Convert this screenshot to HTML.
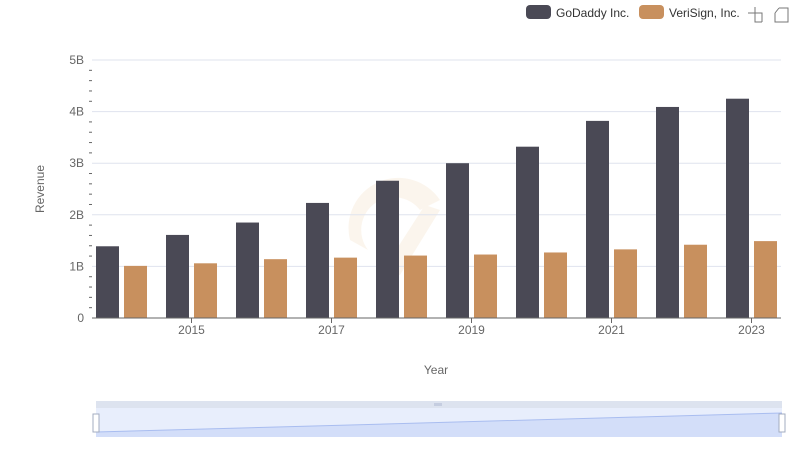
<!DOCTYPE html>
<html><head><meta charset="utf-8"><style>
body{margin:0;background:#fff;font-family:"Liberation Sans",sans-serif;}
svg text{font-family:"Liberation Sans",sans-serif;}
</style></head><body>
<svg id="chart" width="800" height="461" xmlns="http://www.w3.org/2000/svg">
<g>
 <g><rect x="526" y="5" width="25" height="14" rx="4" fill="#4a4955"/><text x="556" y="17" font-size="12" fill="#333">GoDaddy Inc.</text></g>
 <g><rect x="639" y="5" width="25" height="14" rx="4" fill="#c8905e"/><text x="669" y="17" font-size="12" fill="#333">VeriSign, Inc.</text></g>
 <g stroke="#777" fill="none"><path d="M748 13h14v9M755 7v15h7"/></g>
 <g stroke="#777" fill="none"><path d="M779 8h9v14h-13v-9M775 13l4-5"/></g>
</g>
<g opacity="0.12">
 <path d="M350 240 A50 50 0 0 1 440 200 L420 210 A30 30 0 0 0 368 250 Z" fill="#e0b070"/>
 <path d="M440 210 L400 275 L380 275 L425 205 Z" fill="#e0b070"/>
</g>
<g id="grid"></g>
<g id="bars"></g>
<g id="axes"></g>
<text x="44" y="189" font-size="12" fill="#666" text-anchor="middle" transform="rotate(-90 44 189)">Revenue</text>
<text x="436" y="374" font-size="12" fill="#666" text-anchor="middle">Year</text>
<g>
 <rect x="96" y="401" width="686" height="7" fill="#dde3ef"/>
 <rect x="96" y="408" width="686" height="29" fill="#e8eefc"/>
 <path d="M96 432L782 413V437H96Z" fill="#d3def9"/>
 <path d="M96 432L782 413" stroke="#a9bdf0" fill="none"/>
 <rect x="434" y="403" width="8" height="3" fill="#c5cde0"/>
 <rect x="93" y="414" width="6" height="18" fill="#fff" stroke="#a3acc0"/>
 <rect x="779" y="414" width="6" height="18" fill="#fff" stroke="#a3acc0"/>
</g>
</svg>
<script>
const years=[2014,2015,2016,2017,2018,2019,2020,2021,2022,2023];
const godaddy=[1.39,1.61,1.85,2.23,2.66,3.00,3.32,3.82,4.09,4.25];
const verisign=[1.01,1.06,1.14,1.17,1.21,1.23,1.27,1.33,1.42,1.49];
const yTicks=[0,1,2,3,4,5];
const yTickLabels=["0","1B","2B","3B","4B","5B"];
const xTickLabels=["2015","2017","2019","2021","2023"];
const NS="http://www.w3.org/2000/svg";
const y0=318,yTop=60,yMax=5;
function yS(v){return y0-(v/yMax)*(y0-yTop);}
function xC(i){return 121.5+70*i;}
function mk(t,a,p){const e=document.createElementNS(NS,t);for(const k in a)e.setAttribute(k,a[k]);p.appendChild(e);return e;}
const grid=document.getElementById('grid'),bars=document.getElementById('bars'),axes=document.getElementById('axes');
yTicks.forEach((v,i)=>{
 if(v>0){const l=mk('line',{x1:92,x2:781,y1:yS(v),y2:yS(v),stroke:'#dfe3ee'},grid);
 
 }
 const t=mk('text',{x:84,y:yS(v)+4,'font-size':12,fill:'#666','text-anchor':'end'},axes);
 t.textContent=yTickLabels[i];
 
 
});
for(let v=0.2;v<yMax;v+=0.2){if(Math.abs(v-Math.round(v))<0.01)continue;
 const m=mk('line',{x1:89,x2:92,y1:yS(v),y2:yS(v),stroke:'#666'},axes);
 
 }
years.forEach((yr,i)=>{
 const c=xC(i);
 const a=mk('rect',{x:c-25.5,y:yS(godaddy[i]),width:23,height:y0-yS(godaddy[i]),fill:'#4a4955'},bars);
 
 
 const b=mk('rect',{x:c+2.5,y:yS(verisign[i]),width:23,height:y0-yS(verisign[i]),fill:'#c8905e'},bars);
 
 
 const lbl=String(yr);
 if(xTickLabels.includes(lbl)){
  mk('line',{x1:c,x2:c,y1:y0,y2:y0+5,stroke:'#666'},axes);
  const t=mk('text',{x:c,y:y0+16,'font-size':12,fill:'#666','text-anchor':'middle'},axes);
  t.textContent=lbl;
  
  
 }
});
const ax=mk('line',{x1:92,x2:781,y1:y0,y2:y0,stroke:'#666'},axes);


</script>
</body></html>
